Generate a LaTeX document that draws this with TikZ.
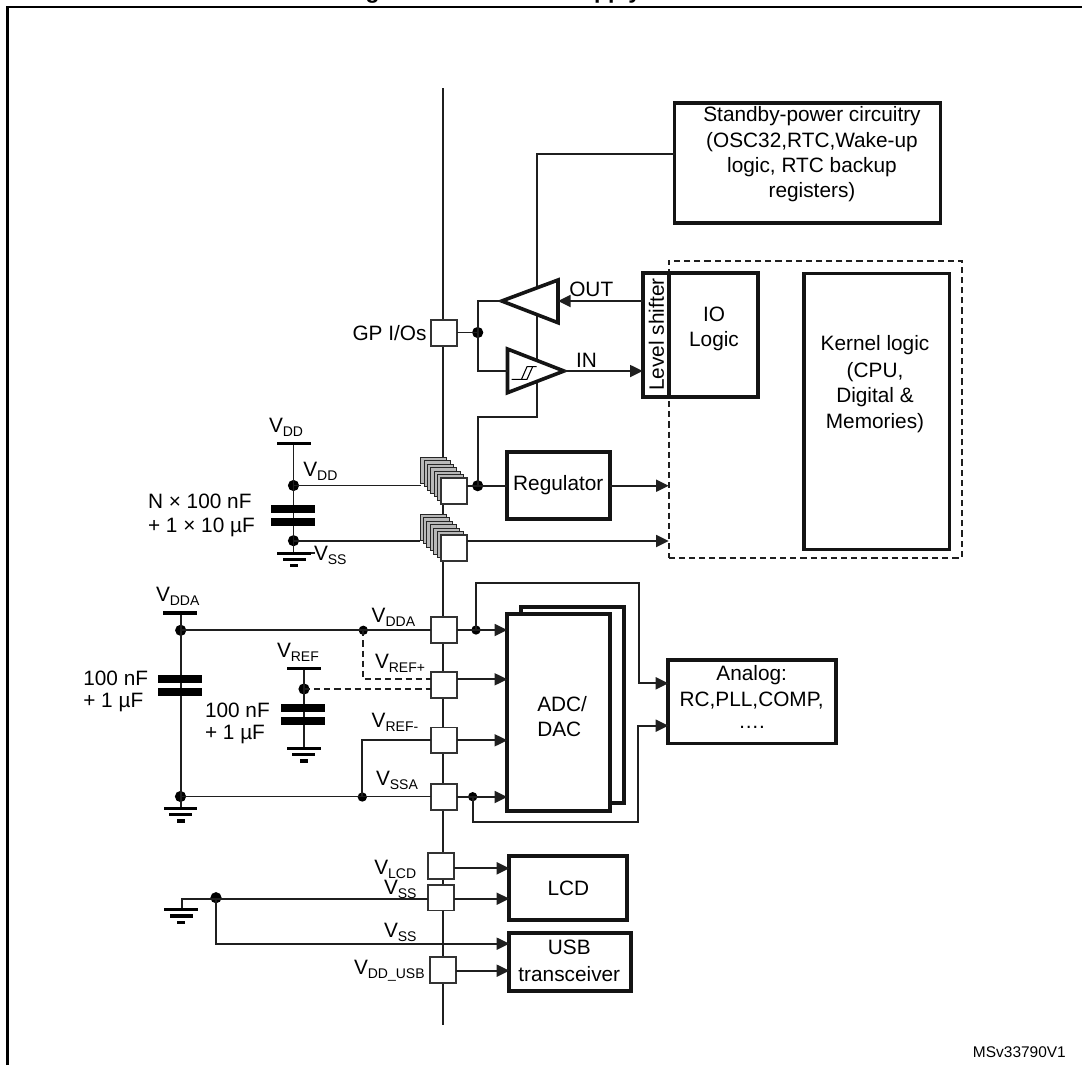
\documentclass[tikz,border=0pt]{standalone}
\usepackage{fontspec}
\setmainfont{Liberation Sans}
\usetikzlibrary{arrows.meta}
\newcommand{\vsub}[1]{V{\fontsize{10.5}{12}\selectfont\raisebox{-3pt}{#1}}}
\tikzset{
  wire/.style={line width=1.35pt,draw=black!88},
  arr/.style={wire,-{Triangle[length=9.5pt,width=9pt]}},
  dsh/.style={wire,dash pattern=on 4.6pt off 3pt},
  bx/.style={draw=black!92,fill=white,line width=2.8pt,inner sep=0pt,outer sep=0pt,align=center,
    font=\fontsize{15.6}{19.2}\selectfont},
  pad/.style={draw=black!80,fill=white,line width=1.3pt,minimum width=19.5pt,minimum height=19.3pt,inner sep=0pt,outer sep=0pt},
  lay/.style={draw=black!85,fill=black!28,line width=.7pt,minimum width=19.5pt,minimum height=19.3pt,inner sep=0pt,outer sep=0pt},
  dot/.style={circle,fill=black,draw=none,inner sep=0pt,outer sep=0pt,minimum size=8.4pt},
  sdot/.style={circle,fill=black,draw=none,inner sep=0pt,outer sep=0pt,minimum size=7pt},
  plate/.style={fill=black,draw=none},
  lbl/.style={inner sep=0pt,outer sep=0pt,font=\fontsize{15.6}{19}\selectfont,anchor=base west},
  txt/.style={inner sep=0pt,outer sep=0pt,font=\fontsize{15.6}{19}\selectfont}
}
\begin{document}
\begin{tikzpicture}[x=0.75pt,y=-0.75pt]
\useasboundingbox (0,0) rectangle (1082,1065);
% title (only the descenders fall on the page)
\node[inner sep=0pt,anchor=base west,font=\fontsize{17.2}{20}\selectfont\bfseries] (t1) at (345,-1.6) {Figure};
\node[inner sep=0pt,anchor=base west,font=\fontsize{17.2}{20}\selectfont\bfseries] (t2) at (567,-1.6) {supply};
% frame
\coordinate (fa) at (7.5,1065);\coordinate (fb) at (7.5,6.7);\coordinate (fc) at (1082,6.7);
\draw[line width=1.6pt,line join=miter] (fa) -- (fb) -- (fc);
% main rail
\coordinate (railT) at (442.7,88);\coordinate (railB) at (442.7,1025);
\draw[wire] (railT) -- (railB);

% --- boxes
\node[bx,minimum width=199.5pt,minimum height=89.5pt] (standby) at (807.5,163) {};
\node[txt,align=center] (standbyA) at (812,116) {Standby-power circuitry};
\node[txt] (standbyB) at (812,141.7) {(OSC32,RTC,Wake-up};
\node[txt] (standbyC) at (812,167.3) {logic, RTC backup};
\node[txt] (standbyD) at (812,192.3) {registers)};

% dashed kernel frame
\node[draw=black!88,line width=1.3pt,dash pattern=on 4.6pt off 3pt,minimum width=219.7pt,minimum height=222.8pt,inner sep=0,outer sep=0] (core) at (815.2,409.2) {};
\node[bx,minimum width=108.8pt,minimum height=207.2pt,line width=2.3pt] (kernel) at (876.5,411.2) {};
\node[txt] (kA) at (875,345.5) {Kernel logic};
\node[txt] (kB) at (875,371.7) {(CPU,};
\node[txt] (kC) at (875,397) {Digital \&};
\node[txt] (kD) at (875,422.7) {Memories)};

\node[bx,minimum width=76.5pt,minimum height=92.8pt] (io) at (707.3,334.9) {};
\node[txt] (ioA) at (714,314) {IO};
\node[txt] (ioB) at (714,340.7) {Logic};
\node[bx,minimum width=20pt,minimum height=92.8pt] (ls) at (656,334.9) {};
\node[txt,rotate=90] (lsT) at (656.5,334.5) {Level shifter};

\node[bx,minimum width=77.5pt,minimum height=50.7pt] (reg) at (558.3,485.5) {Regulator};

\node[bx,minimum width=77.2pt,minimum height=147.5pt] (adcb) at (572.2,705) {};
\node[bx,minimum width=77pt,minimum height=147.5pt] (adc) at (558.6,712.6) {};
\node[txt,anchor=base west] (adcA) at (537.3,711) {ADC/};
\node[txt,anchor=base west] (adcB) at (537.3,736) {DAC};

\node[bx,minimum width=125.5pt,minimum height=62.5pt] (analog) at (752,701.7) {};
\node[txt] (anA) at (751.7,675.5) {Analog:};
\node[txt] (anB) at (751.7,700.7) {RC,PLL,COMP,};
\node[txt] (anC) at (751.7,727) {….};

\node[bx,minimum width=88.5pt,minimum height=48pt] (lcd) at (568.3,888) {LCD};
\node[bx,minimum width=91pt,minimum height=43.5pt,line width=3.1pt] (usb) at (570,961.7) {};
\node[txt] (usbA) at (569.3,947.7) {USB};
\node[txt] (usbB) at (569.3,974.3) {transceiver};

% --- pads on rail
\node[pad] (pGP) at (443.7,333) {};
\node[pad] (pDDA) at (443.7,630) {};
\node[pad] (pREFp) at (443.7,685.2) {};
\node[pad] (pREFm) at (443.7,740.3) {};
\node[pad] (pSSA) at (443.7,797) {};
\node[pad] (pLCD) at (441.2,866) {};
\node[pad] (pSS) at (441.2,897.5) {};
\node[pad] (pUSB) at (443,970) {};

% stacked pads
\foreach \i in {0,...,5}{
  \node[lay] (sa\i) at ({433.7+\i*3.4},{470.3+\i*3.4}) {};
  \node[lay] (sb\i) at ({433+\i*3.45},{527.3+\i*3.45}) {};
}
\node[pad] (pVDD) at (453.7,491.2) {};
\node[pad] (pVSS) at (453.7,548) {};

% --- buffers
\coordinate (oA) at (501.7,301);\coordinate (oB) at (558,280);\coordinate (oC) at (558,322.7);
\coordinate (iA) at (564,371);\coordinate (iB) at (507.5,349);\coordinate (iC) at (507.5,392.7);
\coordinate (stbTurn) at (536.7,154.3);
\coordinate (supTurn) at (536.7,416.7);
\coordinate (jTop) at (477.7,301);
\coordinate (jBot) at (477.7,371);
\node[dot] (jGP) at (477.7,332.5) {};
\node[dot] (jVDD) at (477.7,485.7) {};
\draw[wire] (standby.west |- stbTurn) -- (stbTurn) -- (supTurn) -- (jVDD.center |- supTurn) -- (jVDD.center);
\draw[line width=2.7pt,fill=white,draw=black!92,line join=miter] (oA) -- (oB) -- (oC) -- cycle;
\draw[line width=2.7pt,fill=white,draw=black!92,line join=miter] (iA) -- (iB) -- (iC) -- cycle;
\draw[wire] (pGP.east |- jGP) -- (jGP.center);
\draw[wire] (oA) -- (jTop) -- (jBot) -- (iB |- iA);
% hysteresis symbol
\coordinate (h1) at (511.7,379.3);\coordinate (h2) at (527,379.3);\coordinate (h3) at (532.5,367);
\coordinate (h4) at (521.5,379.3);\coordinate (h5) at (527,366.7);\coordinate (h6) at (536.7,366.7);
\draw[line width=.8pt] (h1) -- (h2) -- (h3);
\draw[line width=.8pt] (h4) -- (h5) -- (h6);
% OUT / IN
\draw[arr] (ls.west |- oA) -- (oB |- oA);
\draw[arr] (iA) -- (ls.west |- iA);
\node[txt,anchor=west] (lOUT) at (569.3,289.3) {OUT};
\node[txt,anchor=west] (lIN) at (576,360) {IN};
\node[txt,anchor=east] (lGP) at (426.5,333) {GP I/Os};

% regulator wires
\draw[wire] (pVDD.east |- jVDD) -- (reg.west |- jVDD);
\draw[arr] (reg.east |- jVDD) -- (core.west |- jVDD);
\coordinate (vssY) at (669,541);
\draw[arr] (pVSS.east |- vssY) -- (core.west |- vssY);

% VDD decoupling
\coordinate (vddTop) at (293.5,443.3);
\coordinate (vddGnd) at (293.5,553.3);
\node[dot] (jA) at (293.5,485.5) {};
\node[dot] (jB) at (293.5,540.7) {};
\draw[wire] (vddTop) -- (vddGnd);
\draw[wire] (jA.center) -- (sa0.west |- jA);
\draw[wire] (jB.center) -- (sb0.west |- jB);
\coordinate (tk1) at (311,553.3);\coordinate (tk2) at (315,553.3);
\draw[wire] (tk1) -- (tk2);
\fill[plate] (276.7,441.5) rectangle (311,445.2);
\fill[plate] (271,505) rectangle (315,513);
\fill[plate] (271,518) rectangle (315,526);
\fill[plate] (276.7,551.6) rectangle (311,555);
\fill[plate] (282.7,558) rectangle (305.7,561.4);
\fill[plate] (290,564) rectangle (298.3,567.4);
\node[lbl] (vA) at (269,432) {\vsub{DD}};
\node[lbl] (vB) at (303.3,476.7) {\vsub{DD}};
\node[lbl] (vC) at (314,560) {\vsub{SS}};
\node[txt,anchor=west] (cA) at (148,501.7) {N × 100 nF};
\node[txt,anchor=west] (cB) at (148,527) {+ 1 × 10 µF};

% VDDA decoupling
\node[dot] (jD1) at (180.7,630.3) {};
\node[sdot] (jD2) at (363.3,630.3) {};
\node[dot] (jS1) at (180.5,796.5) {};
\node[sdot] (jS2) at (362.3,797) {};
\coordinate (ddaTop) at (180.7,613);
\coordinate (ddaGnd) at (180.7,808.3);
\draw[wire] (ddaTop) -- (ddaGnd);
\draw[wire] (jD1.center) -- (pDDA.west |- jD1);
\draw[wire] (jS1.center) -- (pSSA.west |- jS1);
\coordinate (refmY) at (362.3,740.3);
\draw[wire] (jS2.center) -- (refmY) -- (pREFm.west |- refmY);
\fill[plate] (163.3,611.2) rectangle (197.3,614.9);
\fill[plate] (158.3,675) rectangle (202,683);
\fill[plate] (158.3,688) rectangle (202,696);
\fill[plate] (163.7,806.6) rectangle (197.3,810);
\fill[plate] (169.3,812.6) rectangle (192,816);
\fill[plate] (176.7,819.3) rectangle (185,822.7);

% VREF decoupling
\node[dot] (jR) at (304,689) {};
\coordinate (refTop) at (304,668.3);
\coordinate (refGnd) at (304,748.3);
\draw[wire] (refTop) -- (refGnd);
\coordinate (dTurn) at (363.3,679.3);
\draw[dsh] (jD2.center) -- (dTurn) -- (pREFp.west |- dTurn);
\draw[dsh] (jR.center) -- (pREFp.west |- jR);
\fill[plate] (286.7,666.5) rectangle (320.7,670.2);
\fill[plate] (281,704) rectangle (325,712);
\fill[plate] (281,717) rectangle (325,725);
\fill[plate] (286.7,746.6) rectangle (320.7,750);
\fill[plate] (292.3,752.6) rectangle (315,756);
\fill[plate] (299.7,759.3) rectangle (308,762.7);

\node[lbl] (l1) at (156,601) {\vsub{DDA}};
\node[lbl] (l2) at (371.7,622) {\vsub{DDA}};
\node[lbl] (l3) at (277,657) {\vsub{REF}};
\node[lbl] (l4) at (375,668.7) {\vsub{REF+}};
\node[lbl] (l5) at (371.7,727.7) {\vsub{REF-}};
\node[lbl] (l6) at (376,785) {\vsub{SSA}};
\node[txt,anchor=west] (c1) at (83.3,678) {100 nF};
\node[txt,anchor=west] (c2) at (83.3,702.7) {+ 1 µF};
\node[txt,anchor=west] (c3) at (205,710) {100 nF};
\node[txt,anchor=west] (c4) at (205,734) {+ 1 µF};

% analog wires
\node[sdot] (jAn1) at (476,630) {};
\node[sdot] (jAn2) at (472.7,796.7) {};
\draw[arr] (pDDA.east) -- (adc.west |- pDDA.east);
\coordinate (rpY) at (507,679.3);
\draw[arr] (pREFp.east |- rpY) -- (adc.west |- rpY);
\draw[arr] (pREFm.east) -- (adc.west |- pREFm.east);
\draw[arr] (pSSA.east) -- (adc.west |- pSSA.east);
\coordinate (a1) at (476,583.3);\coordinate (a2) at (639,583.3);\coordinate (a3) at (639,683.3);
\draw[arr] (jAn1.center) -- (a1) -- (a2) -- (a3) -- (analog.west |- a3);
\coordinate (b1) at (472.7,822.3);\coordinate (b2) at (638.3,822.3);\coordinate (b3) at (638.3,725.7);
\draw[arr] (jAn2.center) -- (b1) -- (b2) -- (b3) -- (analog.west |- b3);

% lower section
\coordinate (lcdY) at (509,868.3);\coordinate (ssY) at (509,898.7);
\draw[arr] (pLCD.east |- lcdY) -- (lcd.west |- lcdY);
\draw[arr] (pSS.east |- ssY) -- (lcd.west |- ssY);
\coordinate (usbY) at (509,970.7);
\draw[arr] (pUSB.east |- usbY) -- (usb.west |- usbY);
\node[dot] (jG) at (216,897.7) {};
\coordinate (gT) at (181.7,898.7);\coordinate (gB) at (181.7,909.7);
\draw[wire] (gB) -- (gT) -- (pSS.west |- gT);
\coordinate (vssT) at (216,943.7);
\draw[arr] (jG.center) -- (vssT) -- (usb.west |- vssT);
\fill[plate] (164.3,908) rectangle (198.3,911.4);
\fill[plate] (170,914.3) rectangle (192.7,917.7);
\fill[plate] (177.3,921) rectangle (185.3,924.4);
\node[lbl] (l7) at (374.3,874) {\vsub{LCD}};
\node[lbl] (l8) at (384,894) {\vsub{SS}};
\node[lbl] (l9) at (384,937.3) {\vsub{SS}};
\node[lbl] (l10) at (354,974.3) {\vsub{DD\_USB}};

\node[inner sep=0pt,anchor=base west,font=\fontsize{11.6}{14}\selectfont] (ms) at (972.7,1057.7) {MSv33790V1};
\end{tikzpicture}
\end{document}
